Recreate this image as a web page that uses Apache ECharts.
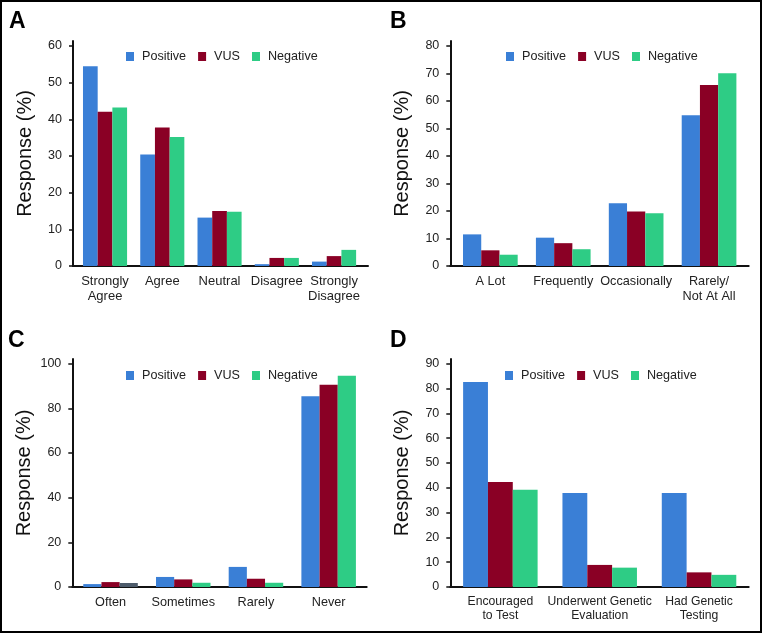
<!DOCTYPE html>
<html>
<head>
<meta charset="utf-8">
<script src="https://cdn.jsdelivr.net/npm/echarts@6/dist/echarts.min.js"></script>
<style>
html,body{margin:0;padding:0;background:#fff;}
#wrap{position:relative;width:762px;height:633px;}
#chart{position:absolute;left:0;top:0;width:762px;height:633px;}
#frame{position:absolute;left:0;top:0;width:762px;height:633px;box-sizing:border-box;border:2px solid #000;pointer-events:none;}
</style>
</head>
<body>
<div id="wrap"><div id="chart"></div><div id="frame"></div></div>
<script>
const seriesNames = ['Positive', 'VUS', 'Negative'];

const catsA = ['Strongly\nAgree', 'Agree', 'Neutral', 'Disagree', 'Strongly\nDisagree'];
const posA = [54.5, 30.4, 13.2, 0.5, 1.2];
const vusA = [42.1, 37.8, 15.0, 2.2, 2.7];
const negA = [43.2, 35.2, 14.8, 2.2, 4.4];

const catsB = ['A Lot', 'Frequently', 'Occasionally', 'Rarely/\nNot At All'];
const posB = [11.5, 10.3, 22.8, 54.8];
const vusB = [5.7, 8.3, 19.8, 65.8];
const negB = [4.1, 6.1, 19.2, 70.1];

const catsC = ['Often', 'Sometimes', 'Rarely', 'Never'];
const posC = [1.3, 4.5, 9.0, 85.4];
const vusC = [2.2, 3.4, 3.7, 90.6];
const negC = [1.8, 1.9, 1.9, 94.6];

const catsD = ['Encouraged\nto Test', 'Underwent Genetic\nEvaluation', 'Had Genetic\nTesting'];
const posD = [82.6, 37.9, 37.9];
const vusD = [42.3, 8.9, 5.9];
const negD = [39.2, 7.8, 4.9];

const yMaxA = 60, yStepA = 10;
const yMaxB = 80, yStepB = 10;
const yMaxC = 100, yStepC = 20;
const yMaxD = 90, yStepD = 10;

const colors = ['#3a7fd6', '#8a0025', '#2ecc85'];
const FONT = 'Liberation Sans';

const panels = [
  { letter: 'A', cats: catsA, data: [posA, vusA, negA], max: yMaxA, step: yStepA,
    frame: { left: 73, top: 41, width: 295, height: 225 },
    main: { left: 76.4, top: 46, width: 286.3, height: 220 },
    gap: '23%', catFont: 13, catLH: 15, legend: { left: 126, top: 50 }, letterPos: { left: 9, top: 10 } },
  { letter: 'B', cats: catsB, data: [posB, vusB, negB], max: yMaxB, step: yStepB,
    frame: { left: 450.3, top: 41, width: 298.4, height: 225 },
    main: { left: 453.9, top: 46, width: 291.6, height: 220 },
    gap: '25%', catFont: 12.7, catLH: 15, legend: { left: 506, top: 50 }, letterPos: { left: 390, top: 10 } },
  { letter: 'C', cats: catsC, data: [posC, vusC, negC], max: yMaxC, step: yStepC,
    frame: { left: 72.3, top: 359, width: 294.4, height: 228 },
    main: { left: 74.2, top: 363.7, width: 290.8, height: 223.3 },
    gap: '25%', catFont: 12.7, catLH: 15, legend: { left: 126, top: 369 }, letterPos: { left: 8, top: 329 } },
  { letter: 'D', cats: catsD, data: [posD, vusD, negD], max: yMaxD, step: yStepD,
    frame: { left: 450.3, top: 359, width: 298.4, height: 228 },
    main: { left: 450.7, top: 363.7, width: 298, height: 223.3 },
    gap: '25%', catFont: 12.2, catLH: 14, legend: { left: 505, top: 369 }, letterPos: { left: 390, top: 329 } }
];

const option = {
  animation: false,
  backgroundColor: '#fff',
  color: colors,
  title: [], grid: [], xAxis: [], yAxis: [], series: [], legend: []
};

panels.forEach((p, i) => {
  const fg = 2 * i, mg = 2 * i + 1;
  option.title.push({
    text: p.letter, left: p.letterPos.left, top: p.letterPos.top, padding: 0,
    textStyle: { fontFamily: 'Liberation Sans', fontWeight: 'bold', fontSize: 23, color: '#000' }
  });
  option.grid.push(Object.assign({ containLabel: false }, p.frame));
  option.grid.push(Object.assign({ containLabel: false }, p.main));
  option.xAxis.push({
    type: 'value', gridIndex: fg, min: 0, max: 1,
    axisLine: { show: true, lineStyle: { color: '#111', width: 2 } },
    axisTick: { show: false }, axisLabel: { show: false }, splitLine: { show: false }
  });
  option.yAxis.push({
    type: 'value', gridIndex: fg, min: 0, max: 1,
    name: 'Response (%)', nameLocation: 'middle', nameGap: 38,
    nameTextStyle: { fontFamily: FONT, fontSize: 20, color: '#111' },
    axisLine: { show: true, lineStyle: { color: '#111', width: 2 } },
    axisTick: { show: false }, axisLabel: { show: false }, splitLine: { show: false }
  });
  option.xAxis.push({
    type: 'category', gridIndex: mg, data: p.cats,
    axisLine: { show: false }, axisTick: { show: false },
    axisLabel: { interval: 0, margin: 7.5, fontFamily: FONT, fontSize: p.catFont, lineHeight: p.catLH, color: '#222' }
  });
  option.yAxis.push({
    type: 'value', gridIndex: mg, min: 0, max: p.max, interval: p.step,
    offset: p.main.left - p.frame.left,
    axisLine: { show: false },
    axisTick: { show: true, length: 4, lineStyle: { color: '#111', width: 1.5 } },
    axisLabel: { margin: 11, fontFamily: FONT, fontSize: 12.5, color: '#222' },
    splitLine: { show: false }
  });
  seriesNames.forEach((name, k) => {
    let d = p.data[k];
    if (p.letter === 'C' && name === 'Negative') {
      d = d.map((v, j) => j === 0 ? { value: v, itemStyle: { color: '#4d5b6b' } } : v);
    }
    option.series.push({
      type: 'bar', name: name, xAxisIndex: mg, yAxisIndex: mg,
      data: d, barGap: '0%', barCategoryGap: p.gap,
      itemStyle: { color: colors[k] }
    });
  });
  option.legend.push({
    data: seriesNames, left: p.legend.left, top: p.legend.top, orient: 'horizontal',
    icon: 'rect', itemWidth: 8, itemHeight: 9, itemGap: 12, padding: 0,
    textStyle: { fontFamily: FONT, fontSize: 12.6, color: '#222', padding: [0, 0, 0, 3] }
  });
});

const chart = echarts.init(document.getElementById('chart'), null, { renderer: 'canvas' });
chart.setOption(option);
</script>
</body>
</html>
